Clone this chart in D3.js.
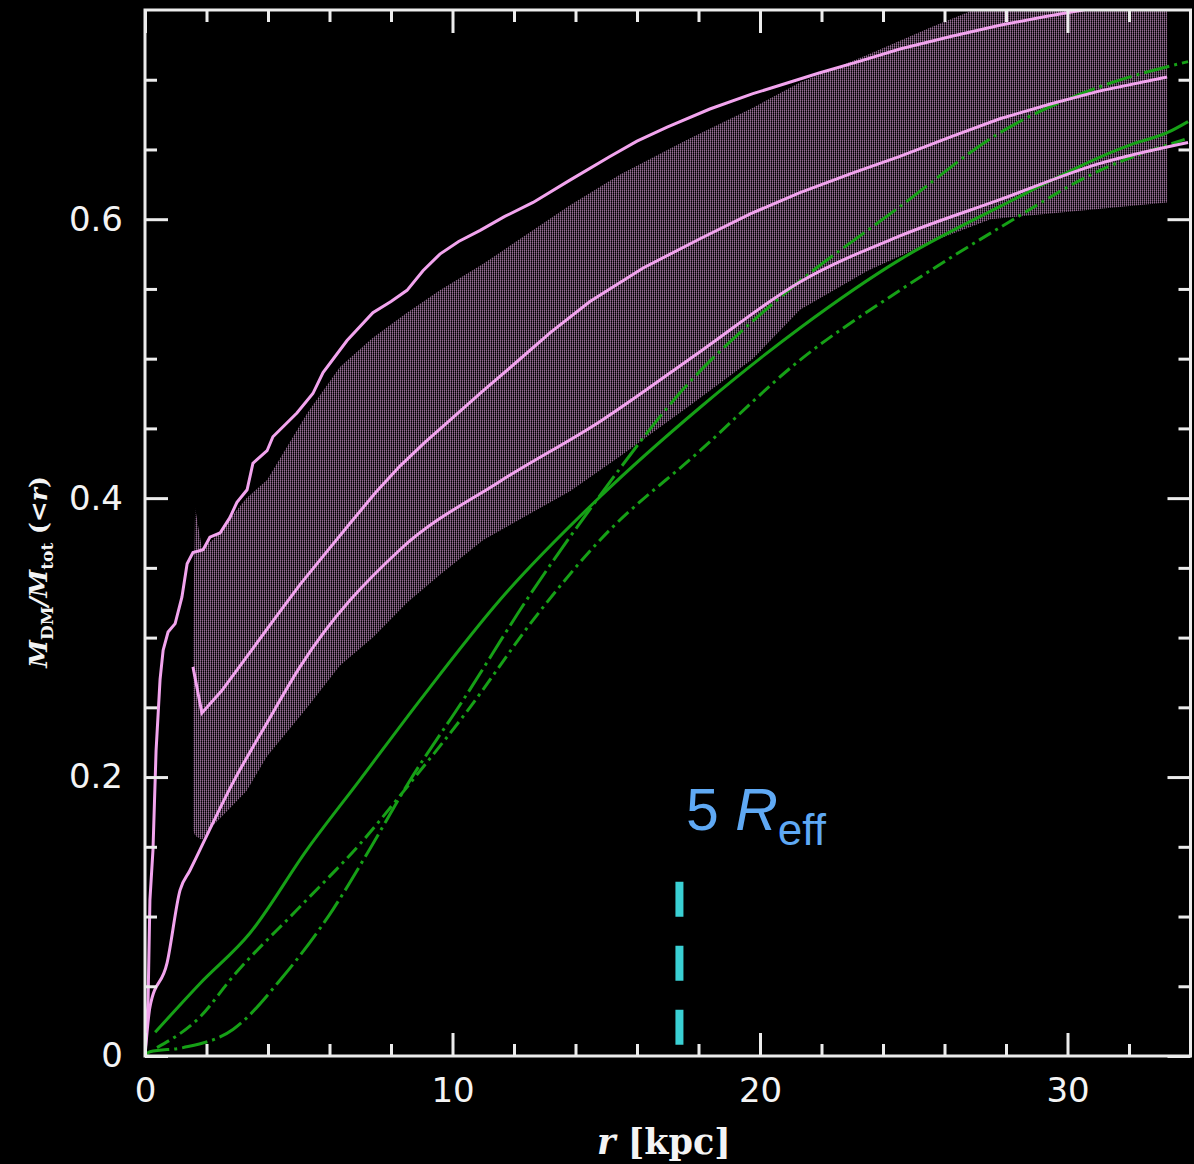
<!DOCTYPE html>
<html>
<head>
<meta charset="utf-8">
<script src="https://cdn.jsdelivr.net/npm/d3@7"></script>
<style>
  html, body { margin: 0; padding: 0; background: #000; }
  svg { display: block; }
</style>
</head>
<body>
<svg id="chart" width="1194" height="1164"></svg>
<script>
// ---- data: dark-matter fraction M_DM/M_tot(<r) versus radius r [kpc] ----

// upper envelope curve
const upperR = [0, 0.1, 0.16, 0.26, 0.36, 0.49, 0.59, 0.75, 0.98, 1.2, 1.37, 1.56, 1.89, 2.11, 2.44, 2.76, 2.99, 3.32, 3.51, 3.97, 4.16, 4.94, 5.46, 5.79, 6.57, 7.41, 8.0, 8.52, 9.04, 9.59, 10.2, 10.9, 11.7, 12.62, 13.82, 15.12, 16.0, 16.98, 18.37, 19.77, 21.95, 23.2, 24.55, 26.2, 27.8, 29.2, 30.5, 32.0];
const upperV = [0, 0.04, 0.112, 0.148, 0.219, 0.27, 0.291, 0.304, 0.31, 0.329, 0.353, 0.361, 0.363, 0.372, 0.375, 0.386, 0.397, 0.406, 0.425, 0.434, 0.444, 0.461, 0.475, 0.49, 0.513, 0.533, 0.541, 0.549, 0.563, 0.575, 0.584, 0.592, 0.602, 0.612, 0.628, 0.645, 0.656, 0.666, 0.679, 0.69, 0.705, 0.713, 0.722, 0.731, 0.739, 0.745, 0.75, 0.758];

// median curve
const midR = [1.56, 1.85, 2.5, 3.3, 4.2, 5.04, 6.0, 6.67, 7.5, 8.29, 9.1, 9.92, 11.0, 12.0, 13.2, 14.47, 16.2, 18.05, 19.7, 21.3, 23.0, 24.55, 26.2, 27.8, 29.5, 31.06, 33.24];
const midV = [0.279, 0.246, 0.262, 0.286, 0.313, 0.338, 0.364, 0.382, 0.404, 0.423, 0.44, 0.456, 0.477, 0.496, 0.519, 0.541, 0.565, 0.586, 0.604, 0.619, 0.633, 0.645, 0.659, 0.672, 0.683, 0.692, 0.702];

// lower curve
const lowR = [0, 0.16, 0.72, 1.14, 1.46, 1.79, 2.86, 3.97, 5.04, 8.29, 11.54, 14.8, 18.05, 21.3, 24.55, 27.8, 31.06, 33.92];
const lowV = [0, 0.035, 0.067, 0.119, 0.133, 0.148, 0.196, 0.239, 0.279, 0.363, 0.412, 0.455, 0.505, 0.555, 0.588, 0.614, 0.64, 0.655];

// shaded range
const bandR   = [1.56, 1.63, 1.85, 2.2, 3.3, 3.97, 5.28, 6.34, 7.41, 8.52, 9.59, 11.0, 13.82, 15.45, 17.63, 19.77, 21.3, 23.5, 25.6, 27.5, 33.24];
const bandTop = [0.30, 0.393, 0.364, 0.37, 0.40, 0.413, 0.461, 0.494, 0.515, 0.533, 0.549, 0.568, 0.61, 0.632, 0.657, 0.68, 0.698, 0.718, 0.738, 0.755, 0.79];
const bandBot = [0.162, 0.158, 0.155, 0.165, 0.19, 0.215, 0.25, 0.28, 0.30, 0.325, 0.345, 0.37, 0.405, 0.43, 0.465, 0.50, 0.535, 0.563, 0.584, 0.60, 0.612];

// model curves
const solidR = [0.33, 1.79, 3.41, 5.27, 6.99, 8.94, 11.54, 14.8, 18.05, 21.3, 24.55, 27.8, 32.13, 33.24, 33.92];
const solidV = [0.017, 0.052, 0.088, 0.148, 0.198, 0.255, 0.327, 0.401, 0.465, 0.522, 0.571, 0.609, 0.654, 0.662, 0.67];

const steepR = [0, 0.16, 1.24, 2.86, 4.49, 6.11, 7.22, 8.6, 10.34, 12.5, 14.7, 17.5, 20.55, 24.55, 27.8, 31.06, 33.92];
const steepV = [0, 0.003, 0.006, 0.019, 0.057, 0.105, 0.145, 0.197, 0.255, 0.33, 0.399, 0.478, 0.542, 0.609, 0.662, 0.695, 0.713];

const dotR = [0.39, 1.79, 2.86, 5.04, 6.99, 8.6, 10.57, 12.6, 14.8, 18.05, 21.3, 24.55, 27.8, 31.06, 33.92];
const dotV = [0.006, 0.028, 0.057, 0.107, 0.152, 0.195, 0.25, 0.312, 0.37, 0.434, 0.499, 0.549, 0.594, 0.635, 0.658];

// 5 R_eff marker
const rEff5 = 17.38;
const markerV = [0.008, 0.125];

// axes
const xMajor = [0, 10, 20, 30];
const xMinor = [2, 4, 6, 8, 12, 14, 16, 18, 22, 24, 26, 28, 32];
const yMajor = [0, 0.2, 0.4, 0.6];
const yMajorLabels = ["0", "0.2", "0.4", "0.6"];
const yMinor = [0.05, 0.1, 0.15, 0.25, 0.3, 0.35, 0.45, 0.5, 0.55, 0.65, 0.7];

// ---- layout ----
const svg = d3.select("#chart");
const L = 145, R = 1190.5, T = 10, B = 1056;
const x = d3.scaleLinear().domain([0, 34]).range([L, R]);
const y = d3.scaleLinear().domain([0, 0.75]).range([B, T]);

const defs = svg.append("defs");
defs.append("clipPath").attr("id", "plotclip")
  .append("rect").attr("x", L).attr("y", T).attr("width", R - L).attr("height", B - T);

// fine vertical hatching used for the shaded range
const pat = defs.append("pattern").attr("id", "hatch")
  .attr("patternUnits", "userSpaceOnUse").attr("width", 2).attr("height", 2);
pat.append("rect").attr("x", 0).attr("y", 0).attr("width", 1).attr("height", 1).attr("fill", "#946c92");
pat.append("rect").attr("x", 0).attr("y", 1).attr("width", 1).attr("height", 1).attr("fill", "#6c506c");
pat.append("rect").attr("x", 1).attr("y", 0).attr("width", 1).attr("height", 1).attr("fill", "#2e222e");

svg.append("rect").attr("width", 1194).attr("height", 1164).attr("fill", "#000");

const plot = svg.append("g").attr("clip-path", "url(#plotclip)");

const zip = (rs, vs) => rs.map((r, i) => [r, vs[i]]);

// shaded range
const area = d3.area()
  .x(d => x(d[0])).y0(d => y(d[2])).y1(d => y(d[1]))
  .curve(d3.curveLinear);
plot.append("path")
  .datum(bandR.map((r, i) => [r, bandTop[i], bandBot[i]]))
  .attr("d", area)
  .attr("fill", "url(#hatch)");

const line = (curve) => d3.line().x(d => x(d[0])).y(d => y(d[1])).curve(curve);

const green = "#16a016";
const pink = "#f2a4ee";

// model curves
plot.append("path").datum(zip(solidR, solidV))
  .attr("d", line(d3.curveMonotoneX))
  .attr("fill", "none").attr("stroke", green).attr("stroke-width", 3);
plot.append("path").datum(zip(steepR, steepV))
  .attr("d", line(d3.curveMonotoneX))
  .attr("fill", "none").attr("stroke", green).attr("stroke-width", 3)
  .attr("stroke-dasharray", "26,5,3,5");
plot.append("path").datum(zip(dotR, dotV))
  .attr("d", line(d3.curveMonotoneX))
  .attr("fill", "none").attr("stroke", green).attr("stroke-width", 3)
  .attr("stroke-dasharray", "14,5,3,5");

// measured curves
plot.append("path").datum(zip(upperR, upperV))
  .attr("d", line(d3.curveLinear))
  .attr("fill", "none").attr("stroke", pink).attr("stroke-width", 3);
plot.append("path").datum(zip(midR, midV))
  .attr("d", line(d3.curveLinear))
  .attr("fill", "none").attr("stroke", pink).attr("stroke-width", 3);
plot.append("path").datum(zip(lowR, lowV))
  .attr("d", line(d3.curveMonotoneX))
  .attr("fill", "none").attr("stroke", pink).attr("stroke-width", 3);

// 5 R_eff marker
plot.append("line")
  .attr("x1", x(rEff5)).attr("x2", x(rEff5))
  .attr("y1", y(markerV[0])).attr("y2", y(markerV[1]))
  .attr("stroke", "#3ad0d4").attr("stroke-width", 8)
  .attr("stroke-dasharray", "35,29");

const lbl = svg.append("text")
  .attr("x", 686).attr("y", 830)
  .attr("fill", "#5fa9f4")
  .attr("font-family", "Liberation Sans, Arial, sans-serif")
  .attr("font-size", 59);
lbl.append("tspan").text("5 ");
lbl.append("tspan").attr("font-style", "italic").text("R");
lbl.append("tspan").attr("font-size", 44).attr("dy", 15).text("eff");

// ---- axes ----
const axisColor = "#ececec";
function styleAxis(g) {
  g.select(".domain").remove();
  g.selectAll(".tick line").attr("stroke", axisColor).attr("stroke-width", 3);
  g.selectAll(".tick text").attr("fill", "#f4f4f4")
    .attr("font-family", "DejaVu Sans, Verdana, sans-serif").attr("font-size", 34);
}

// bottom
svg.append("g").attr("transform", `translate(0,${B})`)
  .call(d3.axisBottom(x).tickValues(xMajor).tickSize(-23).tickPadding(22).tickFormat(d3.format("d")))
  .call(styleAxis);
svg.append("g").attr("transform", `translate(0,${B})`)
  .call(d3.axisBottom(x).tickValues(xMinor).tickSize(-12).tickFormat(""))
  .call(styleAxis);
// top
svg.append("g").attr("transform", `translate(0,${T})`)
  .call(d3.axisTop(x).tickValues(xMajor).tickSize(-23).tickFormat(""))
  .call(styleAxis);
svg.append("g").attr("transform", `translate(0,${T})`)
  .call(d3.axisTop(x).tickValues(xMinor).tickSize(-12).tickFormat(""))
  .call(styleAxis);
// left
svg.append("g").attr("transform", `translate(${L},0)`)
  .call(d3.axisLeft(y).tickValues(yMajor).tickSize(-23).tickPadding(22)
    .tickFormat((d, i) => yMajorLabels[i]))
  .call(styleAxis);
svg.append("g").attr("transform", `translate(${L},0)`)
  .call(d3.axisLeft(y).tickValues(yMinor).tickSize(-12).tickFormat(""))
  .call(styleAxis);
// right
svg.append("g").attr("transform", `translate(${R},0)`)
  .call(d3.axisRight(y).tickValues(yMajor).tickSize(-23).tickFormat(""))
  .call(styleAxis);
svg.append("g").attr("transform", `translate(${R},0)`)
  .call(d3.axisRight(y).tickValues(yMinor).tickSize(-12).tickFormat(""))
  .call(styleAxis);

// frame
svg.append("rect")
  .attr("x", L).attr("y", T).attr("width", R - L).attr("height", B - T)
  .attr("fill", "none").attr("stroke", axisColor).attr("stroke-width", 3);

// axis titles
const xt = svg.append("text")
  .attr("x", 664).attr("y", 1154).attr("text-anchor", "middle")
  .attr("fill", "#f4f4f4").attr("font-family", "DejaVu Serif, Liberation Serif, serif")
  .attr("font-weight", "bold").attr("font-size", 35);
xt.append("tspan").attr("font-style", "italic").text("r");
xt.append("tspan").text(" [kpc]");

const yt = svg.append("text")
  .attr("transform", "translate(47,572) rotate(-90)")
  .attr("text-anchor", "middle")
  .attr("fill", "#f4f4f4").attr("font-family", "DejaVu Serif, Liberation Serif, serif")
  .attr("font-weight", "bold").attr("font-size", 25);
yt.append("tspan").attr("font-style", "italic").text("M");
yt.append("tspan").attr("font-size", 17).attr("dy", 6).text("DM");
yt.append("tspan").attr("dy", -6).attr("font-style", "italic").text("/M");
yt.append("tspan").attr("font-size", 17).attr("dy", 6).text("tot");
yt.append("tspan").attr("dy", -6).text(" (<");
yt.append("tspan").attr("font-style", "italic").text("r");
yt.append("tspan").text(")");
</script>
</body>
</html>
